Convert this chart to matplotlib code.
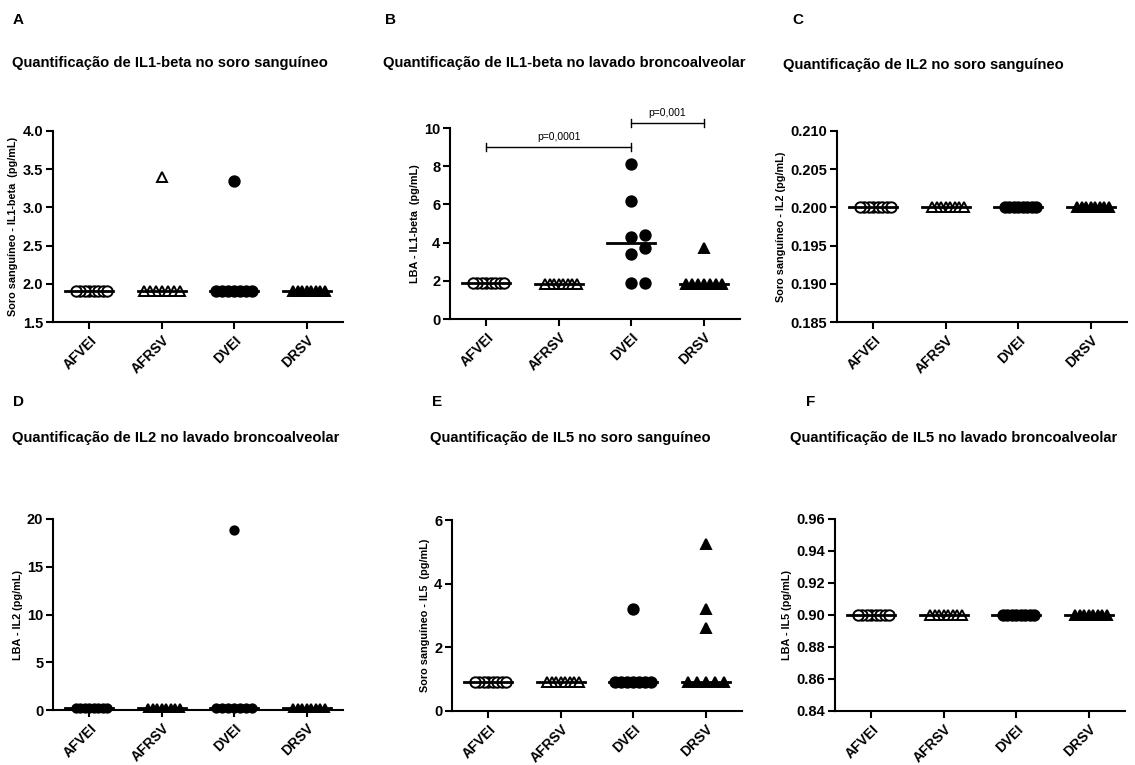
import numpy as np
import matplotlib
matplotlib.use("Agg")
from matplotlib import pyplot as plt
from matplotlib.ticker import FormatStrFormatter

plt.rcParams['font.family'] = ['Liberation Sans', 'DejaVu Sans']

groups = ["AFVEI", "AFRSV", "DVEI", "DRSV"]

# A - IL1-beta, soro
il1b_soro_afvei = [1.9, 1.9, 1.9, 1.9, 1.9, 1.9, 1.9, 1.9]
il1b_soro_afrsv = [1.9, 1.9, 1.9, 1.9, 1.9, 1.9, 1.9, 3.4]
il1b_soro_dvei = [1.9, 1.9, 1.9, 1.9, 1.9, 1.9, 1.9, 3.35]
il1b_soro_drsv = [1.9, 1.9, 1.9, 1.9, 1.9, 1.9, 1.9, 1.9]

# B - IL1-beta, LBA
il1b_lba_afvei = [1.9, 1.9, 1.9, 1.9, 1.9, 1.9, 1.9, 1.9]
il1b_lba_afrsv = [1.85, 1.85, 1.85, 1.85, 1.85, 1.85, 1.85, 1.85]
il1b_lba_dvei = [8.1, 6.2, 4.4, 4.3, 3.7, 3.4, 1.9, 1.9]
il1b_lba_drsv = [1.85, 1.85, 1.85, 1.85, 1.85, 1.85, 1.85, 3.7]

# C - IL2, soro
il2_soro_afvei = [0.2, 0.2, 0.2, 0.2, 0.2, 0.2, 0.2, 0.2]
il2_soro_afrsv = [0.2, 0.2, 0.2, 0.2, 0.2, 0.2, 0.2, 0.2]
il2_soro_dvei = [0.2, 0.2, 0.2, 0.2, 0.2, 0.2, 0.2, 0.2]
il2_soro_drsv = [0.2, 0.2, 0.2, 0.2, 0.2, 0.2, 0.2, 0.2]

# D - IL2, LBA
il2_lba_afvei = [0.2, 0.2, 0.2, 0.2, 0.2, 0.2, 0.2, 0.2]
il2_lba_afrsv = [0.2, 0.2, 0.2, 0.2, 0.2, 0.2, 0.2, 0.2]
il2_lba_dvei = [0.2, 0.2, 0.2, 0.2, 0.2, 0.2, 0.2, 18.8]
il2_lba_drsv = [0.2, 0.2, 0.2, 0.2, 0.2, 0.2, 0.2, 0.2]

# E - IL5, soro
il5_soro_afvei = [0.9, 0.9, 0.9, 0.9, 0.9, 0.9, 0.9, 0.9]
il5_soro_afrsv = [0.9, 0.9, 0.9, 0.9, 0.9, 0.9, 0.9, 0.9]
il5_soro_dvei = [0.9, 0.9, 0.9, 0.9, 0.9, 0.9, 0.9, 3.2]
il5_soro_drsv = [0.9, 0.9, 0.9, 0.9, 0.9, 2.6, 3.2, 5.25]

# F - IL5, LBA
il5_lba_afvei = [0.9, 0.9, 0.9, 0.9, 0.9, 0.9, 0.9, 0.9]
il5_lba_afrsv = [0.9, 0.9, 0.9, 0.9, 0.9, 0.9, 0.9, 0.9]
il5_lba_dvei = [0.9, 0.9, 0.9, 0.9, 0.9, 0.9, 0.9, 0.9]
il5_lba_drsv = [0.9, 0.9, 0.9, 0.9, 0.9, 0.9, 0.9, 0.9]

letters = ["A", "B", "C", "D", "E", "F"]
titles = [
    "Quantificação de IL1-beta no soro sanguíneo",
    "Quantificação de IL1-beta no lavado broncoalveolar",
    "Quantificação de IL2 no soro sanguíneo",
    "Quantificação de IL2 no lavado broncoalveolar",
    "Quantificação de IL5 no soro sanguíneo",
    "Quantificação de IL5 no lavado broncoalveolar",
]
ylabels = [
    "Soro sanguíneo - IL1-beta  (pg/mL)",
    "LBA - IL1-beta  (pg/mL)",
    "Soro sanguíneo - IL2 (pg/mL)",
    "LBA - IL2 (pg/mL)",
    "Soro sanguíneo - IL5  (pg/mL)",
    "LBA - IL5 (pg/mL)",
]
yticks_all = [
    [1.5, 2.0, 2.5, 3.0, 3.5, 4.0],
    [0, 2, 4, 6, 8, 10],
    [0.185, 0.190, 0.195, 0.200, 0.205, 0.210],
    [0, 5, 10, 15, 20],
    [0, 2, 4, 6],
    [0.84, 0.86, 0.88, 0.90, 0.92, 0.94, 0.96],
]
yfmts = ["%.1f", "%d", "%.3f", "%d", "%d", "%.2f"]

# p-value brackets (panel B): (group from, group to, height, label)
brackets_b = [(0, 2, 9.0, "p=0,0001"), (2, 3, 10.25, "p=0,001")]

panel_data = [
    [il1b_soro_afvei, il1b_soro_afrsv, il1b_soro_dvei, il1b_soro_drsv],
    [il1b_lba_afvei, il1b_lba_afrsv, il1b_lba_dvei, il1b_lba_drsv],
    [il2_soro_afvei, il2_soro_afrsv, il2_soro_dvei, il2_soro_drsv],
    [il2_lba_afvei, il2_lba_afrsv, il2_lba_dvei, il2_lba_drsv],
    [il5_soro_afvei, il5_soro_afrsv, il5_soro_dvei, il5_soro_drsv],
    [il5_lba_afvei, il5_lba_afrsv, il5_lba_dvei, il5_lba_drsv],
]

W, H = 1135, 765
# axes boxes in pixels: left, top, right, bottom
boxes = [
    (53, 131, 343, 322), (450, 128, 740, 319), (837, 131, 1127, 322),
    (53, 519, 343, 710), (452, 520, 742, 711), (835, 519, 1125, 711),
]
letter_pos = [(13, 20), (385, 20), (792, 20), (13, 402), (432, 402), (806, 402)]
title_pos = [(12, 63), (383, 63), (783, 65), (12, 438), (430, 438), (790, 438)]

# marker style per group: (marker, filled)
styles = [("o", False), ("^", False), ("o", True), ("^", True)]


def swarm(vals, ppu_y, diam=10.0, step=14.0, max_half=18.0):
    """offsets in pixels, GraphPad-ish scatter"""
    vals = np.asarray(vals, dtype=float)
    ypx = vals * ppu_y
    order = np.argsort(vals)
    cand = [0]
    for k in range(1, 20):
        cand += [k, -k]
    slots = np.zeros(len(vals))
    placed = []
    for i in order:
        for k in cand:
            ok = all(np.hypot((k - slots[j]) * step, ypx[i] - ypx[j]) >= diam for j in placed)
            if ok:
                break
        slots[i] = k
        placed.append(i)
    m = np.abs(slots).max()
    s = step if m == 0 else min(step, max_half / m)
    return slots * s


fig = plt.figure(figsize=(W / 100, H / 100), dpi=100)

for p in range(6):
    l, t, r, b = boxes[p]
    ax = fig.add_axes([l / W, 1 - b / H, (r - l) / W, (b - t) / H])
    yt = yticks_all[p]
    ymin, ymax = yt[0], yt[-1]
    ax.set_xlim(0.5, 4.5)
    ax.set_ylim(ymin, ymax)
    ppu_y = (b - t) / (ymax - ymin)
    ppu_x = (r - l) / 4.0

    for g, vals in enumerate(panel_data[p]):
        marker, filled = styles[g]
        if p == 3:
            filled = True
        ms = 7.5 if p != 3 else 6
        offs = swarm(vals, ppu_y) / ppu_x
        xs = g + 1 + offs
        ax.plot(xs, vals, linestyle="none", marker=marker, ms=ms,
                mfc="black" if filled else "white", mec="black", mew=1.4,
                clip_on=False, zorder=3)
        med = np.median(vals)
        ax.plot([g + 1 - 0.33, g + 1 + 0.33], [med, med], color="black", lw=2, zorder=4)

    if p == 1:
        for g0, g1, yb, lab in brackets_b:
            ax.plot([g0 + 1, g1 + 1], [yb, yb], color="black", lw=1, clip_on=False)
            for gx in (g0 + 1, g1 + 1):
                ax.plot([gx, gx], [yb - 0.2, yb + 0.2], color="black", lw=1, clip_on=False)
            ax.text((g0 + g1) / 2 + 1, yb + 0.25, lab, ha="center", va="bottom", fontsize=7.5)

    ax.set_yticks(yt)
    ax.yaxis.set_major_formatter(FormatStrFormatter(yfmts[p]))
    ax.set_xticks([1, 2, 3, 4])
    ax.set_xticklabels(groups, rotation=45, ha="right", rotation_mode="anchor")
    for lab in ax.get_xticklabels():
        lab.set_fontweight("bold")
        lab.set_fontsize(10)
    for lab in ax.get_yticklabels():
        lab.set_fontweight("bold")
        lab.set_fontsize(10.5)
    ax.tick_params(axis="both", direction="out", length=5, width=1.5, pad=2)
    ax.tick_params(axis="x", pad=3)
    ax.spines["top"].set_visible(False)
    ax.spines["right"].set_visible(False)
    ax.spines["left"].set_linewidth(1.5)
    ax.spines["bottom"].set_linewidth(1.5)
    ax.set_ylabel(ylabels[p], fontsize=7.8, fontweight="bold", labelpad=3)
    ax.patch.set_alpha(0)

    lx, ly = letter_pos[p]
    fig.text(lx / W, 1 - ly / H, letters[p], fontsize=11, fontweight="bold", va="center", ha="left")
    tx, ty = title_pos[p]
    fig.text(tx / W, 1 - ty / H, titles[p], fontsize=10.6, fontweight="bold", va="center", ha="left")

fig.savefig("out.png", dpi=100)
